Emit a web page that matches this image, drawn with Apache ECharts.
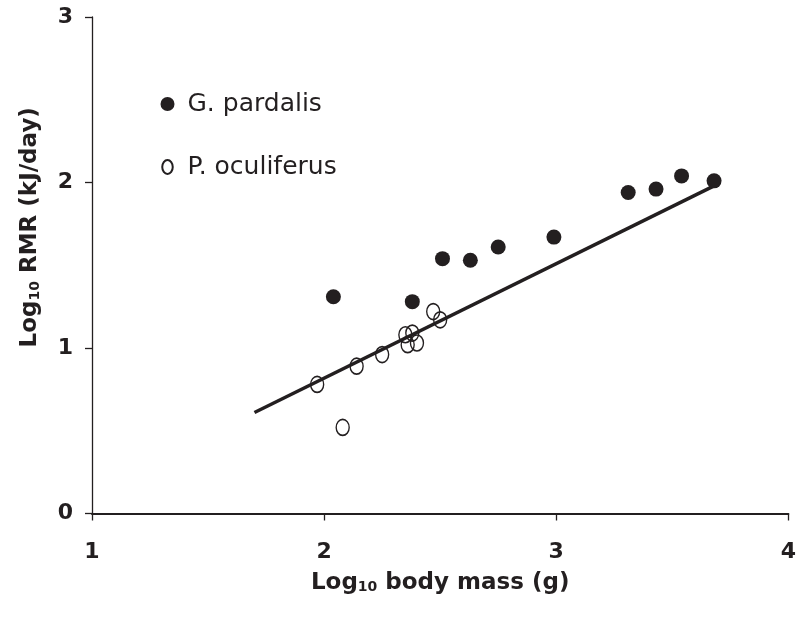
<!DOCTYPE html>
<html>
<head>
<meta charset="utf-8">
<script src="https://cdn.jsdelivr.net/npm/echarts@6/dist/echarts.min.js"></script>
<style>
  html, body { margin: 0; padding: 0; background: #fff; }
  #main { width: 799px; height: 621px; }
</style>
</head>
<body>
<div id="main"></div>
<script>
// G. pardalis (filled)
var pardalisX = [2.04, 2.38, 2.51, 2.63, 2.75, 2.99, 3.31, 3.43, 3.54, 3.68];
var pardalisY = [1.31, 1.28, 1.54, 1.53, 1.61, 1.67, 1.94, 1.96, 2.04, 2.01];
// P. oculiferus (open)
var oculiferusX = [1.97, 2.08, 2.14, 2.25, 2.35, 2.38, 2.36, 2.40, 2.47, 2.50];
var oculiferusY = [0.78, 0.52, 0.89, 0.96, 1.08, 1.09, 1.02, 1.03, 1.22, 1.17];
// fitted line end points
var fitX = [1.70, 3.68];
var fitY = [0.61, 1.98];
var xTicks = [1, 2, 3, 4];
var yTicks = [0, 1, 2, 3];

var ink = '#231f20';
var ellipse = 'path://M6,0 A6,8 0 1 1 6,16 A6,8 0 1 1 6,0 Z';

function pairs(xs, ys) {
  return xs.map(function (x, i) { return [x, ys[i]]; });
}

var chart = echarts.init(document.getElementById('main'));

var option = {
  animation: false,
  backgroundColor: '#fff',
  grid: { left: 92, right: 9.5, top: 17, bottom: 107.5 },
  legend: {
    left: 155.5,
    top: 84,
    orient: 'vertical',
    itemWidth: 30,
    itemHeight: 14,
    itemGap: 33,
    selectedMode: false,
    textStyle: { fontFamily: 'DejaVu Sans', fontSize: 25, color: ink, lineHeight: 30 },
    data: [
      { name: 'G. pardalis', icon: 'circle' },
      { name: 'P. oculiferus', icon: ellipse }
    ]
  },
  xAxis: {
    type: 'value',
    min: xTicks[0],
    max: xTicks[xTicks.length - 1],
    interval: 1,
    splitLine: { show: false },
    axisLine: { onZero: false, lineStyle: { color: ink, width: 2 } },
    axisTick: { length: 7, lineStyle: { color: ink, width: 1.3 } },
    axisLabel: { margin: 28, fontFamily: 'DejaVu Sans', fontWeight: 'bold', fontSize: 22, color: ink },
    name: '{a|Log}{b|10}{a| body mass (g)}',
    nameLocation: 'middle',
    nameGap: 58,
    nameTextStyle: {
      rich: {
        a: { fontFamily: 'DejaVu Sans', fontWeight: 'bold', fontSize: 23, color: ink },
        b: { fontFamily: 'DejaVu Sans', fontWeight: 'bold', fontSize: 14, color: ink, verticalAlign: 'bottom' }
      }
    }
  },
  yAxis: {
    type: 'value',
    min: yTicks[0],
    max: yTicks[yTicks.length - 1],
    interval: 1,
    splitLine: { show: false },
    axisLine: { lineStyle: { color: ink, width: 1.3 } },
    axisTick: { length: 7, lineStyle: { color: ink, width: 1.3 } },
    axisLabel: { margin: 19, fontFamily: 'DejaVu Sans', fontWeight: 'bold', fontSize: 22, color: ink },
    name: '{a|Log}{b|10}{a| RMR (kJ/day)}',
    nameLocation: 'middle',
    nameRotate: 90,
    nameGap: 50,
    nameTextStyle: {
      padding: [0, 0, 0, 76],
      rich: {
        a: { fontFamily: 'DejaVu Sans', fontWeight: 'bold', fontSize: 23, color: ink },
        b: { fontFamily: 'DejaVu Sans', fontWeight: 'bold', fontSize: 14, color: ink, verticalAlign: 'bottom' }
      }
    }
  },
  series: [
    {
      name: 'fit',
      type: 'line',
      data: pairs(fitX, fitY),
      showSymbol: false,
      symbol: 'none',
      lineStyle: { color: ink, width: 3.5 },
      z: 1
    },
    {
      name: 'P. oculiferus',
      type: 'scatter',
      data: pairs(oculiferusX, oculiferusY),
      symbol: ellipse,
      symbolSize: [13, 16],
      itemStyle: { color: 'rgba(0,0,0,0)', borderColor: ink, borderWidth: 1.5, opacity: 1 },
      z: 3
    },
    {
      name: 'G. pardalis',
      type: 'scatter',
      data: pairs(pardalisX, pardalisY),
      symbol: 'circle',
      symbolSize: 15,
      itemStyle: { color: ink, opacity: 1 },
      z: 3
    }
  ]
};

chart.setOption(option);
</script>
</body>
</html>
